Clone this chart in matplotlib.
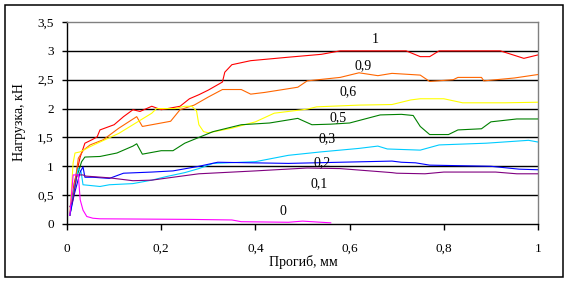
import matplotlib
matplotlib.use("Agg")
import matplotlib.pyplot as plt
from matplotlib.patches import Rectangle

plt.rcParams['font.family'] = ['Liberation Serif', 'DejaVu Serif']
plt.rcParams['font.size'] = 9.5

# ---- data (deflection mm, load kN) ----
x_1 = [0.006, 0.015, 0.028, 0.038, 0.053, 0.064, 0.07, 0.10, 0.12, 0.14, 0.155, 0.18, 0.20, 0.24, 0.26,
       0.28, 0.30, 0.33, 0.335, 0.35, 0.39, 0.47, 0.54, 0.58, 0.64, 0.72, 0.75, 0.77, 0.79, 0.92, 0.97, 1.0]
y_1 = [0.15, 0.7, 1.16, 1.4, 1.46, 1.51, 1.63, 1.72, 1.86, 1.98, 1.95, 2.04, 1.98, 2.04, 2.17,
       2.24, 2.32, 2.46, 2.63, 2.76, 2.83, 2.89, 2.94, 3.0, 3.0, 3.0, 2.9, 2.9, 3.0, 3.0, 2.87, 2.93]

x_09 = [0.006, 0.015, 0.024, 0.035, 0.049, 0.077, 0.11, 0.148, 0.16, 0.20, 0.22, 0.24, 0.27, 0.30, 0.33,
        0.37, 0.39, 0.42, 0.49, 0.51, 0.58, 0.62, 0.66, 0.69, 0.75, 0.77, 0.82, 0.83, 0.88, 0.885, 0.95, 1.0]
y_09 = [0.15, 0.6, 1.14, 1.28, 1.37, 1.46, 1.66, 1.86, 1.69, 1.75, 1.78, 1.98, 2.06, 2.2, 2.33,
        2.33, 2.25, 2.28, 2.37, 2.48, 2.54, 2.62, 2.57, 2.61, 2.58, 2.47, 2.5, 2.54, 2.54, 2.48, 2.53, 2.59]

x_06 = [0.006, 0.013, 0.017, 0.028, 0.049, 0.07, 0.11, 0.14, 0.18, 0.19, 0.23, 0.25, 0.265, 0.275, 0.28,
        0.29, 0.30, 0.35, 0.40, 0.44, 0.51, 0.53, 0.62, 0.69, 0.73, 0.75, 0.80, 0.84, 0.93, 1.0]
y_06 = [0.15, 1.06, 1.23, 1.25, 1.34, 1.42, 1.57, 1.72, 1.92, 2.0, 2.0, 2.04, 2.04, 1.96, 1.72,
        1.6, 1.58, 1.66, 1.77, 1.92, 1.99, 2.03, 2.06, 2.07, 2.15, 2.17, 2.17, 2.1, 2.1, 2.11]

x_05 = [0.006, 0.02, 0.031, 0.038, 0.07, 0.106, 0.14, 0.148, 0.16, 0.20, 0.225, 0.25, 0.28, 0.31, 0.37,
        0.43, 0.49, 0.52, 0.56, 0.60, 0.665, 0.71, 0.735, 0.75, 0.77, 0.81, 0.83, 0.88, 0.90, 0.955, 1.0]
y_05 = [0.15, 0.8, 1.08, 1.16, 1.17, 1.23, 1.35, 1.39, 1.21, 1.27, 1.27, 1.40, 1.5, 1.6, 1.72,
        1.75, 1.83, 1.72, 1.73, 1.75, 1.89, 1.9, 1.88, 1.69, 1.55, 1.55, 1.63, 1.65, 1.77, 1.82, 1.82]

x_03 = [0.006, 0.015, 0.024, 0.03, 0.034, 0.07, 0.09, 0.14, 0.18, 0.21, 0.25, 0.28, 0.31, 0.40, 0.47,
        0.54, 0.62, 0.66, 0.68, 0.75, 0.79, 0.89, 0.98, 1.0]
y_03 = [0.15, 0.6, 0.97, 0.9, 0.68, 0.65, 0.68, 0.7, 0.76, 0.82, 0.89, 0.96, 1.05, 1.08, 1.19,
        1.25, 1.31, 1.35, 1.3, 1.28, 1.37, 1.4, 1.45, 1.42]

x_02 = [0.006, 0.015, 0.028, 0.034, 0.038, 0.055, 0.09, 0.12, 0.18, 0.225, 0.28, 0.32, 0.47, 0.69, 0.71,
        0.74, 0.77, 0.90, 0.96, 1.0]
y_02 = [0.15, 0.5, 0.9, 0.99, 0.81, 0.81, 0.79, 0.88, 0.9, 0.92, 1.0, 1.07, 1.05, 1.09, 1.07,
        1.06, 1.02, 1.0, 0.95, 0.94]

x_01 = [0.006, 0.012, 0.021, 0.034, 0.04, 0.09, 0.14, 0.18, 0.225, 0.28, 0.40, 0.51, 0.58, 0.69, 0.70,
        0.76, 0.80, 0.91, 0.955, 1.0]
y_01 = [0.3, 0.4, 0.85, 0.85, 0.83, 0.8, 0.75, 0.76, 0.81, 0.87, 0.92, 0.97, 0.96, 0.89, 0.88,
        0.87, 0.9, 0.9, 0.87, 0.87]

x_0 = [0.006, 0.013, 0.024, 0.028, 0.034, 0.042, 0.055, 0.07, 0.26, 0.35, 0.37, 0.47, 0.50, 0.56]
y_0 = [0.15, 0.85, 0.85, 0.42, 0.24, 0.13, 0.1, 0.09, 0.08, 0.07, 0.04, 0.03, 0.05, 0.02]

series = [
    (x_1, y_1, '#FF0000', '1', 0.654, 3.19),
    (x_09, y_09, '#FF6600', '0,9', 0.628, 2.75),
    (x_06, y_06, '#FFFF00', '0,6', 0.597, 2.29),
    (x_05, y_05, '#008000', '0,5', 0.575, 1.85),
    (x_03, y_03, '#00CCFF', '0,3', 0.552, 1.48),
    (x_02, y_02, '#0000FF', '0,2', 0.541, 1.06),
    (x_01, y_01, '#800080', '0,1', 0.535, 0.69),
    (x_0, y_0, '#FF00FF', '0', 0.459, 0.21),
]

x_ticks = [0, 0.2, 0.4, 0.6, 0.8, 1.0]
x_ticklabels = ['0', '0,2', '0,4', '0,6', '0,8', '1']
y_ticks = [0, 0.5, 1, 1.5, 2, 2.5, 3, 3.5]
y_ticklabels = ['0', '0,5', '1', '1,5', '2', '2,5', '3', '3,5']

W, H = 569, 282
fig = plt.figure(figsize=(W / 100, H / 100), dpi=100)
ax = fig.add_axes([67 / W, 1 - 224 / H, (538 - 67) / W, (224 - 22) / H])

for yv in y_ticks[1:-1]:
    ax.axhline(yv, color='black', lw=1.0, zorder=1)

for xs, ys, c, lab, lx, ly in series:
    ax.plot(xs, ys, color=c, lw=0.8, zorder=3)
    ax.text(lx, ly, lab, ha='center', va='center', fontsize=10, zorder=4)

ax.set_xlim(0, 1)
ax.set_ylim(0, 3.5)
ax.set_xticks(x_ticks)
ax.set_xticklabels(x_ticklabels)
ax.set_yticks(y_ticks)
ax.set_yticklabels(y_ticklabels)
ax.tick_params(axis='x', direction='out', length=4.5, width=1.0, pad=9)
ax.tick_params(axis='y', direction='out', length=3.6, width=1.0, pad=6)
ax.spines['left'].set_color('black')
ax.spines['bottom'].set_color('black')
ax.spines['left'].set_linewidth(1.0)
ax.spines['bottom'].set_linewidth(1.0)
ax.spines['top'].set_color('#808080')
ax.spines['right'].set_color('#808080')
ax.spines['top'].set_linewidth(1.0)
ax.spines['right'].set_linewidth(1.0)

fig.text(303 / W, 1 - 262 / H, 'Прогиб, мм', ha='center', va='center', fontsize=10)
fig.text(20 / W, 1 - 122 / H, 'Нагрузка, кН', ha='center', va='center', rotation=90, fontsize=10)

fig.patches.append(Rectangle((5 / W, 5 / H), (563 - 5) / W, (277 - 5) / H, transform=fig.transFigure,
                             fill=False, edgecolor='black', lw=1.1))

fig.savefig('out.png', dpi=100)
